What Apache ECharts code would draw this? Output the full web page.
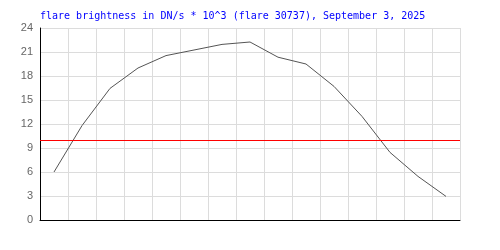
<!DOCTYPE html>
<html><head><meta charset="utf-8">
<script src="https://cdn.jsdelivr.net/npm/echarts@6/dist/echarts.min.js"></script>
<style>html,body{margin:0;padding:0;background:#fff}#c{width:500px;height:250px}</style>
</head><body><div id="c"></div>
<script>
const titleText = "flare brightness in DN/s * 10^3 (flare 30737), September 3, 2025";
const categories = ["1","2","3","4","5","6","7","8","9","10","11","12","13","14","15"];
const brightness = [6.0, 11.8, 16.45, 19.0, 20.55, 21.25, 21.95, 22.25, 20.35, 19.5, 16.7, 12.95, 8.45, 5.45, 2.95];
const thresholdValue = 10;
const yTicks = {min: 0, max: 24, interval: 3};

const chart = echarts.init(document.getElementById('c'), null, {renderer: 'canvas'});
chart.setOption({
  animation: false,
  backgroundColor: '#fff',
  title: {
    text: titleText, left: 35, top: 6,
    textStyle: {fontFamily: 'DejaVu Sans Mono', fontSize: 10, fontWeight: 'normal', color: '#0000ff'}
  },
  grid: {left: 40, right: 40, top: 28, bottom: 30, containLabel: false},
  xAxis: {
    type: 'category', data: categories, boundaryGap: true,
    axisLine: {show: true, lineStyle: {color: '#000', width: 1}},
    axisTick: {show: false}, axisLabel: {show: false},
    splitLine: {show: true, interval: 0, lineStyle: {color: '#dcdcdc', width: 1}}
  },
  yAxis: {
    type: 'value', min: yTicks.min, max: yTicks.max, interval: yTicks.interval,
    axisLine: {show: true, lineStyle: {color: '#000', width: 1}},
    axisTick: {show: false},
    axisLabel: {color: '#666', fontFamily: 'Liberation Sans', fontSize: 11, margin: 7},
    splitLine: {show: true, lineStyle: {color: '#dcdcdc', width: 1}}
  },
  series: [{
    type: 'line', data: brightness, symbol: 'none',
    lineStyle: {color: '#555', width: 1},
    markLine: {
      silent: true, symbol: 'none', label: {show: false},
      lineStyle: {color: '#ff0000', width: 1, type: 'solid'},
      data: [{yAxis: thresholdValue}]
    }
  }]
});
</script></body></html>
